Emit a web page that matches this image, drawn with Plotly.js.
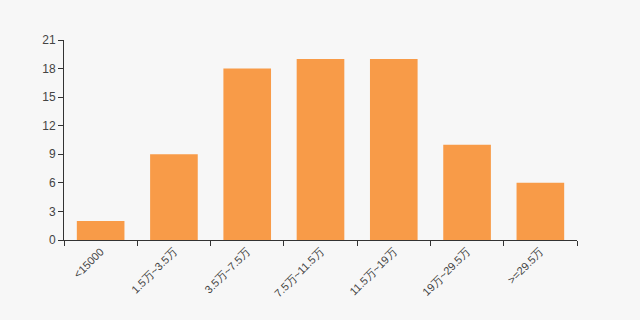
<!DOCTYPE html>
<html><head><meta charset="utf-8">
<script src="https://cdn.plot.ly/plotly-3.0.1.min.js"></script>
<style>html,body{margin:0;padding:0;background:#f7f7f7;}</style>
</head><body><div id="chart" style="width:640px;height:320px;"></div>
<script>
const categories = ["<15000","1.5万~3.5万","3.5万~7.5万","7.5万~11.5万","11.5万~19万","19万~29.5万",">=29.5万"];
const values = [2, 9, 18, 19, 19, 10, 6];
const yTicks = [0, 3, 6, 9, 12, 15, 18, 21];

Plotly.newPlot("chart", [{
  type: "bar", x: categories, y: values,
  marker: {color: "#f89b48"},
  hoverinfo: "x+y"
}], {
  width: 640, height: 320,
  margin: {l: 64, r: 63, t: 40, b: 80},
  paper_bgcolor: "#f7f7f7", plot_bgcolor: "#f7f7f7",
  bargap: 0.35,
  showlegend: false,
  font: {family: "Liberation Sans, Arial, sans-serif", size: 11, color: "#444"},
  xaxis: {
    type: "category", tickson: "boundaries", ticks: "outside", ticklen: 5, tickcolor: "#333",
    showline: true, linecolor: "#333", linewidth: 1, showgrid: false, tickangle: -45,
    tickfont: {size: 11, color: "#444"}
  },
  yaxis: {
    range: [0, 21], tickvals: yTicks, ticks: "outside", ticklen: 5, tickcolor: "#333",
    showline: true, linecolor: "#333", linewidth: 1, showgrid: false, zeroline: false,
    tickfont: {size: 12, color: "#444"}
  }
}, {displayModeBar: false});
</script></body></html>
